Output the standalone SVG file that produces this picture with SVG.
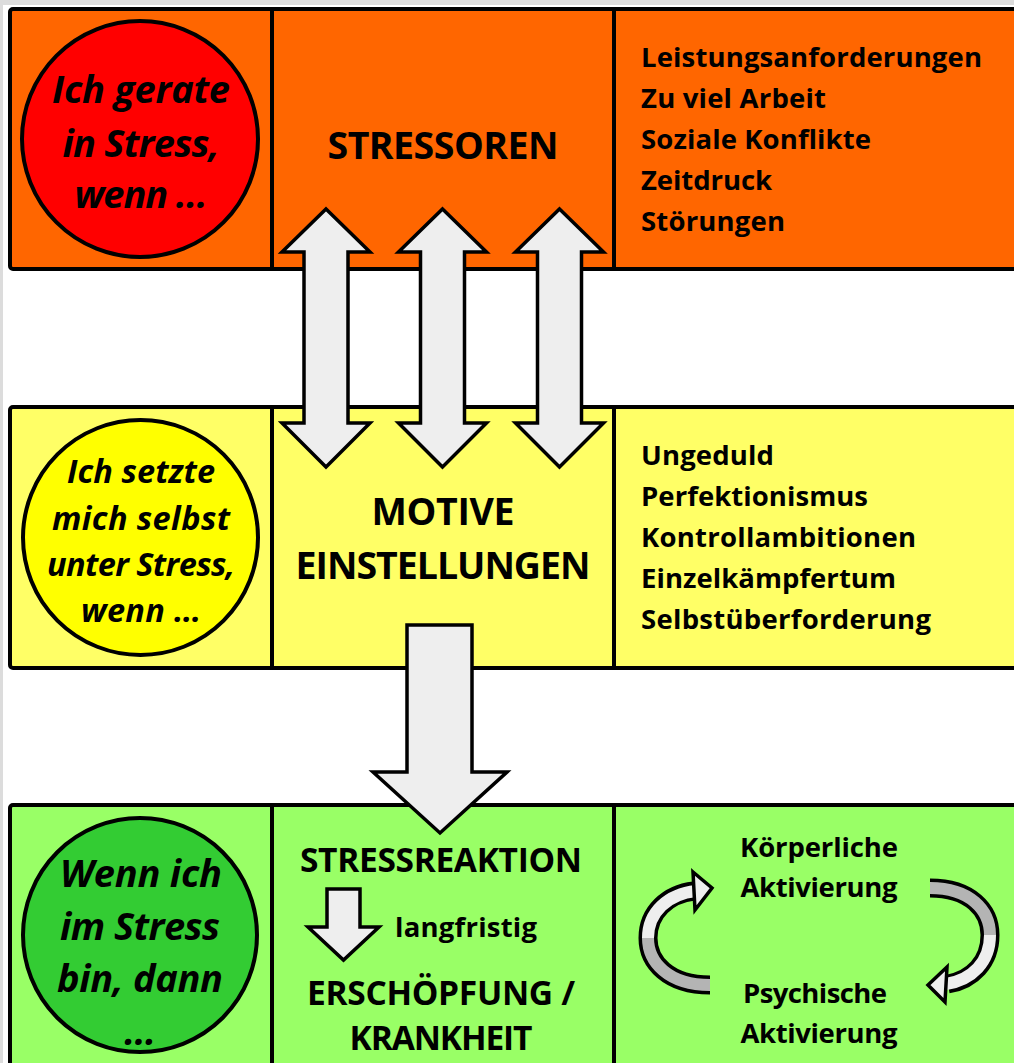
<svg xmlns="http://www.w3.org/2000/svg" width="1014" height="1063" viewBox="0 0 1014 1063">
<style>
.band{stroke:#000;stroke-width:4}
.div{stroke:#000;stroke-width:4}
.circ{stroke:#000;stroke-width:4}
.arr{fill:#eeeeee;stroke:#000;stroke-width:3.5;stroke-linejoin:miter}
.t{font-family:"Open Sans",Lato,"Liberation Sans",sans-serif;font-weight:bold;fill:#000}
.ti{font-family:"Open Sans",Lato,"Liberation Sans",sans-serif;font-weight:bold;font-style:italic;fill:#000;text-anchor:middle}
.c{text-anchor:middle}
.l{font-size:27.5px}
.h{font-size:37.5px}
.rb{fill:none;stroke:#000;stroke-width:19;stroke-linecap:butt}
</style>
<rect x="0" y="0" width="1014" height="1063" fill="#dcdcdc"/>
<rect x="3" y="5" width="1011" height="1058" fill="#ffffff"/>

<g id="band-top">
<rect class="band" x="10" y="9" width="1014" height="260" rx="3" fill="#ff6600"/>
<line class="div" x1="272" y1="9" x2="272" y2="269"/>
<line class="div" x1="614" y1="9" x2="614" y2="269"/>
</g>
<g id="band-middle">
<rect class="band" x="10" y="407" width="1014" height="261" rx="3" fill="#ffff66"/>
<line class="div" x1="272" y1="407" x2="272" y2="668"/>
<line class="div" x1="614" y1="407" x2="614" y2="668"/>
</g>
<g id="band-bottom">
<rect class="band" x="10" y="805" width="1014" height="270" rx="3" fill="#99ff66"/>
<line class="div" x1="272" y1="805" x2="272" y2="1063"/>
<line class="div" x1="614" y1="805" x2="614" y2="1063"/>
</g>

<g id="node-red-circle">
<circle class="circ" cx="140" cy="139" r="118" fill="#ff0000"/>
<text class="ti" font-size="38" x="141" y="103" textLength="178" lengthAdjust="spacing">Ich gerate</text>
<text class="ti" font-size="38" x="141" y="157" textLength="157" lengthAdjust="spacing">in Stress,</text>
<text class="ti" font-size="38" x="141" y="208" textLength="133" lengthAdjust="spacing">wenn …</text>
</g>
<g id="node-stressoren">
<text class="t c h" x="443" y="159" textLength="231" lengthAdjust="spacing">STRESSOREN</text>
</g>
<g id="node-stressor-list">
<text class="t l" x="641" y="67" textLength="341" lengthAdjust="spacing">Leistungsanforderungen</text>
<text class="t l" x="641" y="108" textLength="185" lengthAdjust="spacing">Zu viel Arbeit</text>
<text class="t l" x="641" y="149" textLength="230" lengthAdjust="spacing">Soziale Konflikte</text>
<text class="t l" x="641" y="190" textLength="131" lengthAdjust="spacing">Zeitdruck</text>
<text class="t l" x="641" y="231" textLength="144" lengthAdjust="spacing">Störungen</text>
</g>

<g id="node-yellow-circle">
<circle class="circ" cx="140.5" cy="537.5" r="117.5" fill="#ffff00"/>
<text class="ti" font-size="32.5" x="141" y="483" textLength="148" lengthAdjust="spacing">Ich setzte</text>
<text class="ti" font-size="32.5" x="141" y="530" textLength="178" lengthAdjust="spacing">mich selbst</text>
<text class="ti" font-size="32.5" x="141" y="576" textLength="188" lengthAdjust="spacing">unter Stress,</text>
<text class="ti" font-size="32.5" x="141" y="622" textLength="120" lengthAdjust="spacing">wenn …</text>
</g>
<g id="node-motive">
<text class="t c h" x="443" y="525" textLength="143" lengthAdjust="spacing">MOTIVE</text>
<text class="t c h" x="443" y="579" textLength="295" lengthAdjust="spacing">EINSTELLUNGEN</text>
</g>
<g id="node-motive-list">
<text class="t l" x="641" y="465" textLength="133" lengthAdjust="spacing">Ungeduld</text>
<text class="t l" x="641" y="506" textLength="227" lengthAdjust="spacing">Perfektionismus</text>
<text class="t l" x="641" y="547" textLength="275" lengthAdjust="spacing">Kontrollambitionen</text>
<text class="t l" x="641" y="588" textLength="255" lengthAdjust="spacing">Einzelkämpfertum</text>
<text class="t l" x="641" y="629" textLength="290" lengthAdjust="spacing">Selbstüberforderung</text>
</g>

<g id="node-green-circle">
<circle class="circ" cx="140" cy="935" r="117" fill="#33cc33"/>
<text class="ti" font-size="38" x="141" y="887" textLength="162" lengthAdjust="spacing">Wenn ich</text>
<text class="ti" font-size="38" x="140" y="940" textLength="160" lengthAdjust="spacing">im Stress</text>
<text class="ti" font-size="38" x="140" y="992" textLength="166" lengthAdjust="spacing">bin, dann</text>
<text class="ti" font-size="38" x="140" y="1045">…</text>
</g>
<g id="node-stressreaktion">
<text class="t c" font-size="33.5" x="441" y="872" textLength="282" lengthAdjust="spacing">STRESSREAKTION</text>
<text class="t c" font-size="33.5" x="441" y="1005" textLength="268" lengthAdjust="spacing">ERSCHÖPFUNG /</text>
<text class="t c" font-size="33.5" x="441" y="1050" textLength="183" lengthAdjust="spacing">KRANKHEIT</text>
<text class="t l" x="395" y="937" textLength="142" lengthAdjust="spacing">langfristig</text>
</g>
<g id="node-aktivierung">
<text class="t c l" x="819" y="857" textLength="158" lengthAdjust="spacing">Körperliche</text>
<text class="t c l" x="819" y="897" textLength="157" lengthAdjust="spacing">Aktivierung</text>
<text class="t c l" x="815" y="1003" textLength="144" lengthAdjust="spacing">Psychische</text>
<text class="t c l" x="819" y="1043" textLength="157" lengthAdjust="spacing">Aktivierung</text>
</g>

<g id="connectors">
<polygon class="arr" points="326,209 370,252 348,252 348,423 370,423 326,467 282,423 304,423 304,252 282,252"/>
<polygon class="arr" points="442.5,209 486.5,252 464.5,252 464.5,423 486.5,423 442.5,467 398.5,423 420.5,423 420.5,252 398.5,252"/>
<polygon class="arr" points="559.5,209 603.5,252 581.5,252 581.5,423 603.5,423 559.5,467 515.5,423 537.5,423 537.5,252 515.5,252"/>
<polygon class="arr" points="407,625 472,625 472,772 507,772 440,833 373,772 407,772"/>
<polygon class="arr" points="327,889 360,889 360,927 379,927 343.5,960 308,927 327,927"/>
<!-- left cycle arrow -->
<path class="rb" d="M710,985 C668,985 648,962 648,938 C648,912 668,894 694,891"/>
<path d="M710,985 C668,985 648,962 648,938" fill="none" stroke="#b4b4b4" stroke-width="12"/>
<path d="M648,938 C648,912 668,894 696,891" fill="none" stroke="#eeeeee" stroke-width="12"/>
<polygon class="arr" points="693,872 712,888 695,910"/>
<!-- right cycle arrow -->
<path class="rb" d="M930,888 C970,888 990,910 990,935 C990,962 972,980 948,984"/>
<path d="M930,888 C970,888 990,910 990,935" fill="none" stroke="#b4b4b4" stroke-width="12"/>
<path d="M990,935 C990,962 972,980 946,984" fill="none" stroke="#eeeeee" stroke-width="12"/>
<polygon class="arr" points="947,967 928,985 945,1002"/>
</g>
</svg>
